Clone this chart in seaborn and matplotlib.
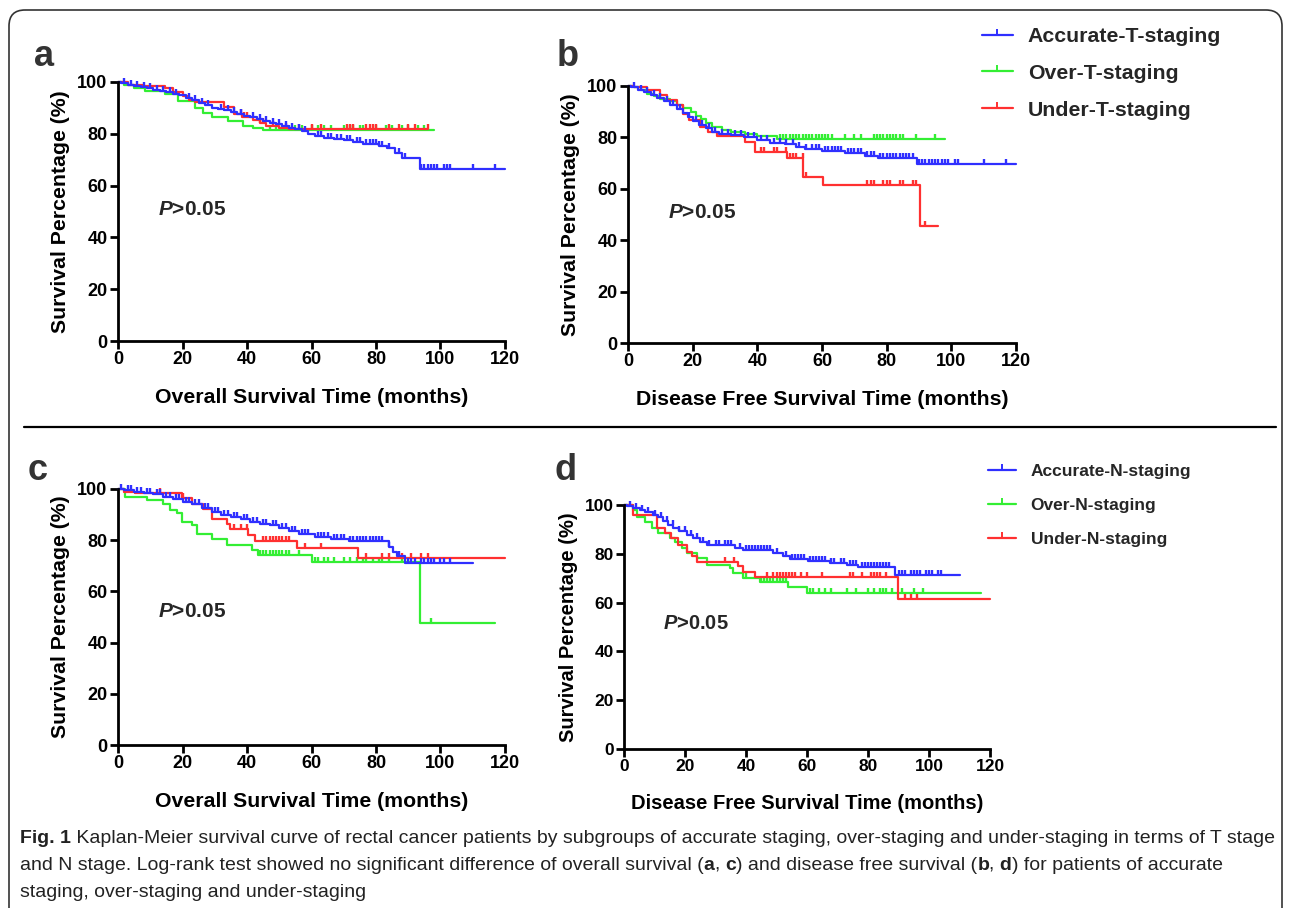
import matplotlib
matplotlib.use("Agg")
import matplotlib.pyplot as plt
from matplotlib.patches import FancyBboxPatch
from matplotlib.lines import Line2D
import seaborn as sns
import numpy as np
import pandas as pd

# ---- panel a: overall survival, T staging ----
a_acc_time = [1, 3, 5, 7, 9, 11, 13, 15, 17, 19, 21, 23, 25, 27, 29, 31, 33, 35, 37, 39,
              41, 43, 45, 47, 49, 51, 53, 55, 57, 59, 61, 64, 67, 70, 73, 76, 81, 83.5, 86, 88, 93.5]
a_acc_surv = [99.5, 99, 98.5, 98, 97.5, 97, 96.5, 96, 95.5, 95, 94, 93, 92, 91, 90, 89.5, 89, 88.3, 87.6, 87,
              86.3, 85.6, 85, 84.3, 83.7, 83, 82.4, 81.8, 81.2, 80, 79, 78.5, 78, 77.5, 77, 76, 75.3, 74.5, 72.5, 70.5, 66.3]
a_acc_cens = [2, 4, 6, 8, 10, 12, 14, 16, 18, 22, 24, 26, 28, 32, 34, 36, 38, 42, 44, 46, 48, 50, 52, 54, 56,
              58, 62, 63, 65, 66, 68, 69, 71, 72, 74, 75, 77, 78, 79, 80, 81, 82, 84, 87, 89, 94, 95, 96, 97,
              98, 99, 101, 102, 103, 110, 117]
a_acc_end = 120
a_over_time = [2, 5, 8.5, 14.5, 18.7, 23.9, 26.5, 29, 34.2, 38.9, 42, 45]
a_over_surv = [99, 97.5, 96.5, 95.5, 92.5, 90, 88, 86.5, 85, 83, 82.3, 81.5]
a_over_cens = [47, 49, 51, 53, 55, 57, 60, 62, 64, 66, 70, 72, 73, 75, 76, 80, 83, 84, 85, 88, 90, 93, 95]
a_over_end = 98
a_under_time = [3, 8, 14.5, 17, 20, 22, 24, 33, 36, 38.5, 42, 44, 46, 50, 53]
a_under_surv = [99, 98.5, 97.5, 96, 94.5, 93, 92.3, 90.2, 87.7, 86.5, 85.5, 84.3, 83, 82.3, 81.8]
a_under_cens = [38, 39, 40, 44, 45, 48, 52, 56, 60, 63, 71, 72, 73, 77, 78, 79, 80, 84, 87, 90, 92, 96]
a_under_end = 96

# ---- panel b: disease free survival, T staging ----
b_acc_time = [1, 3, 5, 7, 9, 11, 13, 15, 17, 18.5, 20, 22, 24, 26, 28, 32, 36, 40, 44, 48.6, 52, 54.7,
              60, 67, 73.3, 77.4, 89.3]
b_acc_surv = [99.5, 98.5, 97.5, 96.5, 95.5, 94, 92.5, 91, 89.5, 88, 86.5, 85, 83.5, 82, 81.3, 80.8, 80, 79,
              78, 77.3, 76.3, 75.5, 74.6, 73.8, 72.8, 71.8, 69.8]
b_acc_cens = [2, 4, 6, 8, 10, 12, 14, 16, 19, 21, 23, 25, 27, 29, 31, 33, 35, 37, 39, 41, 43, 45, 47, 49,
              51, 53, 55, 57, 58, 59, 61, 62, 63, 64, 65, 66, 68, 69, 70, 71, 72, 74, 75, 76, 78, 79, 80,
              81, 82, 83, 84, 85, 86, 87, 88, 90, 91, 92, 93, 94, 95, 96, 97, 98, 99, 101, 102, 110, 117]
b_acc_end = 120
b_over_time = [2, 4, 6, 8, 10, 13, 15, 17, 19.5, 21, 22.5, 24, 25.9, 29, 32, 36.2, 39.8, 46]
b_over_surv = [99.5, 98.5, 97, 96, 95, 94, 92.5, 91.5, 90, 88.5, 87, 85.5, 84, 82.8, 82.2, 81.5, 80.6, 79.5]
b_over_cens = [47, 48, 49, 50, 51, 52, 53, 54, 55, 56, 57, 58, 59, 60, 61, 62, 63, 67, 70, 72, 76, 77, 78,
               79, 80, 81, 82, 83, 84, 85, 89, 95]
b_over_end = 98
b_under_time = [2, 6, 10, 12, 15, 17.1, 19, 22.3, 24.8, 27.4, 36.2, 39.3, 49.1, 54.2, 60.4, 90.3]
b_under_surv = [99.5, 98.5, 96.6, 94.6, 92.6, 89, 86.8, 84.2, 82.2, 80.6, 78.3, 74.4, 71.8, 64.6, 61.3, 45.6]
b_under_cens = [41, 42, 45, 46, 49, 50, 51, 52, 54, 55, 74, 75, 76, 79, 80, 81, 84, 85, 88, 89, 92]
b_under_end = 96

# ---- panel c: overall survival, N staging ----
c_acc_time = [2, 5, 8, 11, 14, 17, 20, 23, 26, 29, 32, 35, 38, 41, 44, 47, 50, 53, 56, 61, 66, 71.5,
              83.9, 85.2, 86.5, 89.1]
c_acc_surv = [99.5, 99, 98.5, 98, 97, 96, 95, 94, 92.5, 91, 90, 89, 88.2, 87.3, 86.5, 85.8, 84.8, 83.5,
              82.5, 81.4, 80.5, 79.6, 77.5, 75.5, 74, 71.2]
c_acc_cens = [1, 3, 4, 6, 7, 9, 10, 12, 13, 15, 16, 18, 19, 21, 22, 24, 25, 27, 28, 30, 31, 33, 34, 36,
              37, 39, 40, 42, 43, 45, 46, 48, 49, 51, 52, 54, 55, 57, 58, 59, 62, 63, 64, 65, 67, 68, 69,
              70, 72, 73, 74, 75, 76, 77, 78, 79, 80, 81, 82, 84, 87, 90, 91, 92, 94, 95, 96, 97, 98, 100,
              101, 103]
c_acc_end = 110
c_over_time = [2.2, 8.9, 14, 16.1, 18.2, 19.7, 22.8, 24.4, 29, 33.7, 41.5, 43.5, 60, 93.6]
c_over_surv = [97, 95.7, 94.1, 91.8, 90.5, 87.2, 85.9, 82.6, 80.3, 78.1, 76.2, 74.2, 71.6, 47.5]
c_over_cens = [44, 45, 46, 47, 48, 49, 50, 51, 52, 53, 56, 61, 62, 64, 65, 67, 70, 72, 74, 76, 77, 79, 81,
               82, 84, 88, 97]
c_over_end = 117
c_under_time = [2, 5.3, 19.7, 22.8, 26.5, 29, 33.7, 34.7, 40.4, 42.5, 55.4, 74.5]
c_under_surv = [99, 98.3, 96.5, 94, 92, 88.1, 86.2, 84.2, 82.2, 79.7, 77.1, 73.2]
c_under_cens = [13, 20, 36, 38, 40, 45, 46, 47, 48, 49, 50, 51, 52, 53, 58, 63, 77, 82, 84, 88, 91, 94, 96]
c_under_end = 120

# ---- panel d: disease free survival, N staging ----
d_acc_time = [1, 3, 5.2, 7, 9.6, 11, 12.9, 14.5, 16.2, 18, 20.6, 22.7, 24.9, 27.1, 36.4, 39.1, 49, 52,
              54.4, 60.4, 67.5, 73, 76.8, 88.9]
d_acc_surv = [99.5, 98.7, 98, 97, 96, 95, 93.5, 92, 90.6, 89.3, 87.8, 86.5, 85, 83.7, 82.4, 81.5, 80.2,
              79, 78, 76.9, 76.2, 75.5, 74.4, 71.3]
d_acc_cens = [2, 4, 6, 8, 10, 12, 14, 16, 18, 20, 22, 24, 26, 28, 30, 31, 33, 34, 35, 38, 40, 41, 42, 43,
              44, 45, 46, 47, 48, 50, 53, 55, 56, 57, 58, 59, 61, 62, 63, 64, 65, 66, 68, 69, 71, 72, 74,
              75, 76, 78, 79, 80, 81, 82, 83, 84, 85, 86, 87, 90, 91, 92, 94, 95, 96, 97, 99, 100, 101,
              103, 104]
d_acc_end = 110
d_over_time = [3.1, 4.2, 6.9, 9.1, 11, 15.1, 16.7, 18.9, 20.6, 23.8, 27.1, 34.8, 35.8, 39.1, 44.6, 53.9, 59.9]
d_over_surv = [97.9, 95.2, 93.2, 90.4, 88.4, 86.6, 85, 82.2, 80.2, 78.1, 75.4, 74, 72, 70, 68.6, 66.5, 63.8]
d_over_cens = [40, 45, 46, 47, 48, 49, 50, 51, 52, 53, 61, 62, 64, 66, 68, 73, 76, 80, 82, 84, 85, 86, 88,
               91, 95, 98]
d_over_end = 117
d_under_time = [3.1, 10.7, 13.3, 15.5, 17.8, 20.6, 22.2, 23.8, 37.5, 39.1, 42.9, 89.9]
d_under_surv = [95.9, 90.4, 88.4, 86.3, 83.6, 80.9, 78.9, 76.8, 74.8, 72.7, 70.6, 61.5]
d_under_cens = [33, 36, 47, 49, 50, 51, 52, 53, 54, 55, 56, 58, 60, 65, 74, 75, 78, 81, 82, 83, 84, 86,
                92, 94, 96]
d_under_end = 120

t_labels = ["Accurate-T-staging", "Over-T-staging", "Under-T-staging"]
n_labels = ["Accurate-N-staging", "Over-N-staging", "Under-N-staging"]
x_ticks = [0, 20, 40, 60, 80, 100, 120]
y_ticks = [0, 20, 40, 60, 80, 100]
p_text = r"$\mathit{P}$>0.05"

BLUE, GREEN, RED = "#2f2fff", "#33ee33", "#ff3030"
W, H = 1290, 908

sns.set_theme(style="ticks")
plt.rcParams["font.family"] = ["Liberation Sans", "DejaVu Sans"]
plt.rcParams["mathtext.fontset"] = "custom"
plt.rcParams["mathtext.it"] = "Liberation Sans:italic:bold"
plt.rcParams["mathtext.rm"] = "Liberation Sans:bold"

fig = plt.figure(figsize=(W / 100, H / 100), dpi=100)
fig.patch.set_facecolor("white")

# background axes in pixel coordinates (frame, separator, captions)
bg = fig.add_axes([0, 0, 1, 1], zorder=-5)
bg.set_xlim(0, W)
bg.set_ylim(H, 0)
bg.axis("off")
bg.add_patch(FancyBboxPatch((9, 10), 1273, 940, boxstyle="round,pad=0,rounding_size=16",
                            fill=False, ec="#333333", lw=1.2, clip_on=True))
bg.plot([24, 1276], [427, 427], color="black", lw=1.6)


def px_axes(left, top, right, bottom):
    return fig.add_axes([left / W, 1 - bottom / H, (right - left) / W, (bottom - top) / H])


def step_value(times, surv, t):
    idx = np.searchsorted(np.asarray(times), t, side="right") - 1
    return 100.0 if idx < 0 else surv[idx]


def draw_curve(ax, times, surv, cens, end, color):
    df = pd.DataFrame({"t": [0] + times + [end], "s": [100] + surv + [surv[-1]]})
    sns.lineplot(data=df, x="t", y="s", ax=ax, color=color, lw=1.6, estimator=None,
                 sort=False, drawstyle="steps-post", clip_on=False)
    cdf = pd.DataFrame({"t": cens, "s": [step_value(times, surv, c) for c in cens]})
    sns.lineplot(data=cdf, x="t", y="s", ax=ax, color=color, estimator=None, sort=False,
                 linestyle="none", marker=2, markersize=3.8, markeredgewidth=1.7,
                 markeredgecolor=color, clip_on=False)


def style_axes(ax, xlabel, fs_tick=13, fs_lab=15.3):
    ax.set_xlim(0, 120)
    ax.set_ylim(0, 100)
    ax.set_xticks(x_ticks)
    ax.set_yticks(y_ticks)
    ax.set_facecolor("none")
    for s in ["top", "right"]:
        ax.spines[s].set_visible(False)
    for s in ["left", "bottom"]:
        ax.spines[s].set_linewidth(2.0)
        ax.spines[s].set_color("black")
    ax.tick_params(width=2.0, length=5.5, color="black", pad=2)
    for lab in ax.get_xticklabels() + ax.get_yticklabels():
        lab.set_fontweight("bold")
        lab.set_fontsize(fs_tick)
        lab.set_color("black")
    ax.set_xlabel(xlabel, fontsize=fs_lab, fontweight="bold", color="black", labelpad=14)
    ax.set_ylabel("Survival Percentage (%)", fontsize=fs_lab, fontweight="bold",
                  color="black", labelpad=5)


ax_a = px_axes(118, 82, 505, 341)
draw_curve(ax_a, a_over_time, a_over_surv, a_over_cens, a_over_end, GREEN)
draw_curve(ax_a, a_under_time, a_under_surv, a_under_cens, a_under_end, RED)
draw_curve(ax_a, a_acc_time, a_acc_surv, a_acc_cens, a_acc_end, BLUE)
style_axes(ax_a, "Overall Survival Time (months)")
ax_a.text(12.4, 50.8, p_text, fontsize=15, fontweight="bold", va="center", ha="left")

ax_b = px_axes(628, 86, 1016, 343)
draw_curve(ax_b, b_over_time, b_over_surv, b_over_cens, b_over_end, GREEN)
draw_curve(ax_b, b_under_time, b_under_surv, b_under_cens, b_under_end, RED)
draw_curve(ax_b, b_acc_time, b_acc_surv, b_acc_cens, b_acc_end, BLUE)
style_axes(ax_b, "Disease Free Survival Time (months)")
ax_b.text(12.4, 50.6, p_text, fontsize=15, fontweight="bold", va="center", ha="left")

ax_c = px_axes(118, 489, 505, 745)
draw_curve(ax_c, c_over_time, c_over_surv, c_over_cens, c_over_end, GREEN)
draw_curve(ax_c, c_under_time, c_under_surv, c_under_cens, c_under_end, RED)
draw_curve(ax_c, c_acc_time, c_acc_surv, c_acc_cens, c_acc_end, BLUE)
style_axes(ax_c, "Overall Survival Time (months)")
ax_c.text(12.4, 52.3, p_text, fontsize=15, fontweight="bold", va="center", ha="left")

ax_d = px_axes(624, 505, 990, 749)
draw_curve(ax_d, d_over_time, d_over_surv, d_over_cens, d_over_end, GREEN)
draw_curve(ax_d, d_under_time, d_under_surv, d_under_cens, d_under_end, RED)
draw_curve(ax_d, d_acc_time, d_acc_surv, d_acc_cens, d_acc_end, BLUE)
style_axes(ax_d, "Disease Free Survival Time (months)", fs_tick=12.5, fs_lab=14.5)
ax_d.text(12.8, 51.6, p_text, fontsize=14.5, fontweight="bold", va="center", ha="left")


def handles():
    return [Line2D([], [], color=c, lw=1.6, marker=2, markersize=4, markeredgewidth=1.4)
            for c in (BLUE, GREEN, RED)]


fig.legend(handles(), t_labels, loc="upper left", bbox_to_anchor=(982 / W, 1 - 27 / H),
           frameon=False, prop={"weight": "bold", "size": 15.3}, handlelength=1.45,
           handletextpad=0.7, labelspacing=0.84, borderpad=0, borderaxespad=0)
fig.legend(handles(), n_labels, loc="upper left", bbox_to_anchor=(988 / W, 1 - 464 / H),
           frameon=False, prop={"weight": "bold", "size": 12.5}, handlelength=1.6,
           handletextpad=0.85, labelspacing=1.09, borderpad=0, borderaxespad=0)

# panel letters
for letter, x, y in [("a", 34, 66), ("b", 557, 66), ("c", 28, 480), ("d", 555, 480)]:
    bg.text(x, y, letter, fontsize=26, fontweight="bold", color="#333333", ha="left",
            va="baseline")

# caption, built from pieces so bold words stay bold
cap_size = 14.0
cap_lines = [
    [("Fig. 1", "bold"), (" Kaplan-Meier survival curve of rectal cancer patients by subgroups of accurate "
                          "staging, over-staging and under-staging in terms of T stage", "normal")],
    [("and N stage. Log-rank test showed no significant difference of overall survival (", "normal"),
     ("a", "bold"), (", ", "normal"), ("c", "bold"), (") and disease free survival (", "normal"),
     ("b", "bold"), (", ", "normal"), ("d", "bold"), (") for patients of accurate", "normal")],
    [("staging, over-staging and under-staging", "normal")],
]
for i, pieces in enumerate(cap_lines):
    y = 843 + 27 * i
    prev = None
    for txt, wt in pieces:
        if prev is None:
            prev = bg.text(20, y, txt, fontsize=cap_size, fontweight=wt,
                           color="#222222", ha="left", va="baseline")
        else:
            prev = bg.annotate(txt, xy=(1, 0), xycoords=prev, xytext=(0, 0),
                               textcoords="offset points", fontsize=cap_size, fontweight=wt,
                               color="#222222", ha="left", va="bottom",
                               annotation_clip=False)

fig.savefig("out.png", dpi=100, facecolor="white")
